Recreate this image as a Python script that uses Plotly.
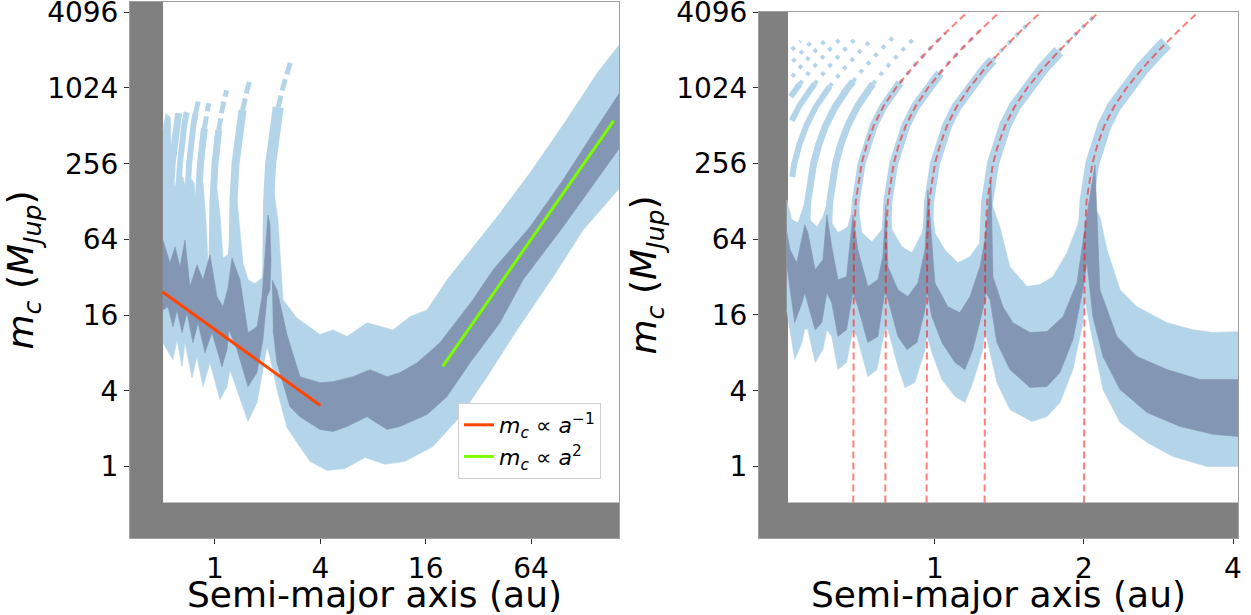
import numpy as np
import plotly.graph_objects as go

LIGHT = "rgb(180,213,233)"
DARK = "rgb(131,151,180)"
GRAY = "rgb(128,128,128)"

# Resonance locations (au) and the mass-dependent drift of each resonance track
RES_A = [2.0, 1.26, 0.962, 0.794, 0.684, 0.606, 0.547, 0.5,
         0.462, 0.431, 0.405, 0.382, 0.362, 0.344]
TRACK_M = [0.5, 32, 64, 128, 256, 362, 512, 724, 1024, 1448, 2048, 2896, 4096, 5793, 8192]
TRACK_SHIFT = [1.0, 1.0, 1.003, 1.012, 1.04, 1.065, 1.10, 1.15, 1.22, 1.31, 1.42, 1.55, 1.70, 1.87, 2.07]

# Lower edge of the sampled grid
A_MIN = 0.505
M_MIN = 0.517

# ---------------- left panel: wide range of separations ----------------
LEFT_LIGHT_UPPER = [
    (0.504, 480), (0.525, 640), (0.555, 600), (0.568, 200), (0.591, 167), (0.615, 200),
    (0.656, 200), (0.692, 144), (0.719, 200), (0.759, 180), (0.789, 96.5), (0.821, 132),
    (0.854, 180), (0.888, 91.5), (0.912, 41.6), (0.961, 48.2), (1.027, 160), (1.068, 100),
    (1.111, 45.6), (1.187, 48.2), (1.251, 100), (1.318, 160), (1.39, 76), (1.446, 41.6),
    (1.544, 30.5), (1.693, 28.4), (1.856, 31.7), (1.956, 48.2), (2.008, 132), (2.117, 200),
    (2.29, 91.5), (2.384, 36.6), (2.447, 21.2), (2.94, 15.2), (3.98, 11.2), (4.72, 12.2),
    (5.68, 10.8), (7.39, 13.9), (10.4, 12.2), (13.0, 15.5), (16.3, 17.6), (21.2, 30.5),
    (26.2, 44.0), (40.9, 96.5), (63.1, 216), (97.5, 519), (152.5, 1342), (201, 2197),
    (210, 2370)]
LEFT_LIGHT_LOWER = [
    (0.504, 9.65), (0.575, 7.07), (0.607, 10.2), (0.648, 6.22), (0.674, 9.65), (0.739, 5.09),
    (0.789, 7.47), (0.854, 4.32), (0.936, 6.69), (1.068, 3.40), (1.171, 4.32), (1.218, 5.89),
    (1.336, 4.09), (1.544, 2.28), (1.738, 3.22), (1.856, 5.18), (1.982, 8.97), (2.062, 7.47),
    (2.261, 4.09), (2.579, 2.04), (2.94, 1.55), (3.49, 1.10), (4.37, 0.93), (5.53, 0.964),
    (7.20, 1.18), (9.37, 1.04), (12.2, 1.10), (17.6, 1.44), (25.1, 2.49), (35.9, 5.18),
    (53.2, 12.2), (85.5, 32.2), (127, 76.1), (201, 158), (210, 173)]
LEFT_DARK_INNER_UPPER = [
    (0.504, 63.4), (0.553, 41.6), (0.591, 55.8), (0.631, 38.7), (0.674, 63.4), (0.719, 26.9),
    (0.789, 40.1), (0.854, 30.5), (0.936, 48.2), (1.027, 22.4), (1.111, 18.6), (1.187, 26.4),
    (1.251, 45.6), (1.318, 38.0), (1.39, 30.5), (1.544, 11.6), (1.738, 12.9), (1.856, 22.4),
    (1.931, 46.5), (2.008, 100), (2.062, 83.4), (2.089, 44.0), (2.062, 25.4)]
LEFT_DARK_INNER_LOWER = [
    (0.504, 17.6), (0.539, 18.6), (0.575, 12.9), (0.607, 17.6), (0.648, 11.6), (0.692, 16.7),
    (0.748, 9.65), (0.800, 13.9), (0.877, 8.04), (0.961, 11.6), (1.096, 6.22), (1.171, 8.49),
    (1.202, 12.2), (1.336, 8.49), (1.544, 4.32), (1.738, 5.58), (1.880, 10.2), (1.982, 22.4)]
LEFT_DARK_OUTER_UPPER = [
    (2.117, 30.5), (2.261, 25.4), (2.579, 11.2), (3.06, 5.18), (3.98, 4.64), (4.72, 4.73),
    (6.15, 5.18), (7.69, 5.89), (9.62, 5.18), (11.4, 5.58), (14.3, 6.69), (19.3, 9.65),
    (29.8, 21.2), (38.8, 36.6), (63.1, 80.4), (97.5, 190), (152.5, 500), (201, 914), (210, 984)]
LEFT_DARK_OUTER_LOWER = [
    (2.145, 12.2), (2.261, 6.69), (2.68, 2.99), (3.06, 2.49), (3.98, 1.97), (4.72, 1.90),
    (5.68, 2.08), (7.39, 2.49), (9.62, 1.97), (11.4, 2.08), (16.3, 2.59), (21.2, 3.60),
    (28.7, 6.69), (42.5, 13.9), (57.6, 30.5), (97.5, 80.4), (201, 328), (210, 353)]

LEFT_TRACK_FROM = [30, 40, 45, 45, 60, 60, 60]
LEFT_TRACK_SOLID_TOP = [720, 683, 473, 491, 646, 658, 646]
LEFT_TRACK_DOT_TOP = [1730, 1250, 983, 776, 850, 0, 0]
LEFT_TRACK_WIDTH = [11, 8, 7, 7, 6, 6, 7]

# power-law guides
INV_A = [0.5, 4.0]
INV_M = [24.5, 3.06]
SQ_A = [20, 190]
SQ_M = [6.25, 564]

# ---------------- right panel: inner region ----------------
RIGHT_LIGHT_UPPER = [
    (0.502, 132), (0.514, 91.4), (0.529, 86.5), (0.555, 150), (0.559, 91.4), (0.578, 80.4),
    (0.594, 96.5), (0.615, 150), (0.619, 86.5), (0.637, 72.1), (0.667, 80.4), (0.694, 150),
    (0.712, 72.1), (0.746, 61.1), (0.781, 76.1), (0.806, 150), (0.819, 76.1), (0.858, 55.8),
    (0.899, 50.0), (0.942, 72.1), (0.976, 150), (1.0, 72.1), (1.047, 52.8), (1.113, 41.6),
    (1.177, 46.5), (1.233, 60.0), (1.279, 150), (1.353, 80.4), (1.417, 38.7), (1.534, 26.9),
    (1.630, 27.9), (1.731, 32.2), (1.848, 50.0), (1.936, 80.4), (2.03, 150), (2.154, 96.5),
    (2.226, 52.8), (2.365, 25.4), (2.560, 18.6), (2.942, 13.9), (3.321, 12.2), (3.645, 11.6),
    (4.113, 11.8), (4.3, 11.8)]
RIGHT_LIGHT_LOWER = [
    (0.502, 17.6), (0.521, 7.07), (0.539, 9.65), (0.546, 12.5), (0.554, 12.2), (0.573, 6.69),
    (0.594, 8.49), (0.605, 12.2), (0.619, 10.8), (0.637, 5.89), (0.663, 6.69), (0.683, 12.2),
    (0.696, 10.8), (0.732, 5.18), (0.764, 5.89), (0.792, 12.2), (0.804, 12.2), (0.842, 6.22),
    (0.870, 4.24), (0.911, 4.64), (0.955, 8.49), (0.963, 11.2), (0.986, 8.04), (1.033, 4.91),
    (1.098, 3.60), (1.150, 3.22), (1.193, 4.64), (1.250, 8.49), (1.262, 12.2), (1.280, 9.65),
    (1.334, 4.64), (1.417, 2.83), (1.570, 2.28), (1.684, 2.49), (1.789, 3.22), (1.900, 5.89),
    (1.990, 13.9), (2.010, 21.2), (2.076, 10.8), (2.185, 4.09), (2.365, 2.24), (2.681, 1.55),
    (3.025, 1.20), (3.545, 1.0), (4.113, 1.0), (4.3, 1.0)]
RIGHT_DARK_UPPER = [
    (0.502, 73.4), (0.510, 52.8), (0.526, 41.6), (0.546, 83.4), (0.554, 72.1), (0.573, 36.6),
    (0.594, 44.0), (0.605, 100), (0.619, 55.8), (0.637, 30.5), (0.663, 32.2), (0.683, 100),
    (0.699, 52.8), (0.732, 26.9), (0.767, 30.5), (0.785, 46.5), (0.796, 120), (0.804, 38.7),
    (0.842, 25.4), (0.882, 22.4), (0.924, 28.9), (0.955, 52.8), (0.968, 158), (1.0, 28.9),
    (1.062, 18.6), (1.123, 16.7), (1.177, 22.4), (1.233, 38.7), (1.262, 63.4), (1.298, 190),
    (1.310, 32.2), (1.372, 18.6), (1.437, 13.9), (1.556, 11.6), (1.684, 11.8), (1.814, 15.5),
    (1.936, 28.9), (2.010, 80.4), (2.105, 250), (2.154, 25.4), (2.331, 10.8), (2.560, 7.47),
    (2.942, 5.89), (3.431, 4.91), (4.113, 4.91), (4.3, 4.91)]
RIGHT_DARK_LOWER = [
    (0.502, 40.1), (0.521, 13.9), (0.539, 20.0), (0.546, 24.0), (0.554, 20.0), (0.573, 12.2),
    (0.591, 13.9), (0.605, 24.0), (0.619, 20.0), (0.637, 10.8), (0.663, 12.2), (0.683, 24.0),
    (0.699, 18.6), (0.732, 9.65), (0.767, 10.8), (0.792, 24.0), (0.804, 21.2), (0.842, 10.8),
    (0.878, 8.49), (0.920, 9.65), (0.955, 17.6), (0.963, 25.0), (0.986, 15.5), (1.033, 9.65),
    (1.098, 6.69), (1.150, 5.89), (1.193, 8.49), (1.250, 17.6), (1.268, 24.0), (1.292, 21.2),
    (1.334, 9.65), (1.417, 5.89), (1.556, 4.24), (1.684, 4.32), (1.789, 5.58), (1.900, 10.2),
    (1.990, 25.4), (2.028, 42.0), (2.085, 15.5), (2.185, 7.47), (2.365, 4.09), (2.681, 2.68),
    (3.125, 2.08), (3.645, 1.80), (4.113, 1.73), (4.3, 1.73)]

RIGHT_TRACK_FROM = [60, 60, 60, 60, 60, 60, 60, 200, 560, 870, 1250, 1650, 2050, 2600]
RIGHT_TRACK_SOLID_TOP = [2320, 2000, 1700, 1340, 1120, 1100, 1150, 1050, 1100, 1100, 1150, 1500, 1900, 2350]
RIGHT_TRACK_DOT_TOP = [0, 4000, 3500, 2900, 2800, 2600, 2600, 2500, 2500, 2500, 2400, 2400, 2400, 2400]
RIGHT_TRACK_WIDTH = [14, 12, 10, 9, 8, 7, 7, 6, 6, 6, 5, 5, 5, 5]
N_DASHED = 5


def track(a_res, m_lo, m_hi):
    """Points of one resonance track between two companion masses."""
    lm = np.log(TRACK_M)
    ls = np.log(TRACK_SHIFT)
    ms = [m_lo] + [m for m in TRACK_M if m_lo < m < m_hi] + [m_hi]
    a = [a_res * float(np.exp(np.interp(np.log(m), lm, ls))) for m in ms]
    return a, ms


def region(upper, lower, color, xa, ya):
    xs = [p[0] for p in upper] + [p[0] for p in lower[::-1]]
    ys = [p[1] for p in upper] + [p[1] for p in lower[::-1]]
    return go.Scatter(x=xs, y=ys, mode="lines", fill="toself", fillcolor=color,
                      line=dict(width=0.6, color=color), hoverinfo="skip",
                      showlegend=False, xaxis=xa, yaxis=ya)


def grid_area(xa, ya):
    return go.Scatter(x=[A_MIN, 1e4, 1e4, A_MIN, A_MIN], y=[M_MIN, M_MIN, 1e5, 1e5, M_MIN],
                      mode="lines", fill="toself", fillcolor="white",
                      line=dict(width=0, color="white"), hoverinfo="skip",
                      showlegend=False, xaxis=xa, yaxis=ya)


def line(a, m, color, width, xa, ya, dash="solid"):
    return go.Scatter(x=a, y=m, mode="lines", line=dict(color=color, width=width, dash=dash),
                      hoverinfo="skip", showlegend=False, xaxis=xa, yaxis=ya)


traces = []

# left panel
traces.append(grid_area("x", "y"))
traces.append(region(LEFT_LIGHT_UPPER, LEFT_LIGHT_LOWER, LIGHT, "x", "y"))
for i in range(len(LEFT_TRACK_FROM)):
    a, m = track(RES_A[i], LEFT_TRACK_FROM[i], LEFT_TRACK_SOLID_TOP[i])
    traces.append(line(a, m, LIGHT, LEFT_TRACK_WIDTH[i], "x", "y"))
    if LEFT_TRACK_DOT_TOP[i] > 0:
        a, m = track(RES_A[i], LEFT_TRACK_SOLID_TOP[i], LEFT_TRACK_DOT_TOP[i])
        traces.append(line(a, m, LIGHT, 5, "x", "y", dash="12px,5px"))
traces.append(region(LEFT_DARK_INNER_UPPER, LEFT_DARK_INNER_LOWER, DARK, "x", "y"))
traces.append(region(LEFT_DARK_OUTER_UPPER, LEFT_DARK_OUTER_LOWER, DARK, "x", "y"))

# right panel
traces.append(grid_area("x2", "y2"))
traces.append(region(RIGHT_LIGHT_UPPER, RIGHT_LIGHT_LOWER, LIGHT, "x2", "y2"))
for i in range(len(RIGHT_TRACK_FROM)):
    if RIGHT_TRACK_SOLID_TOP[i] > RIGHT_TRACK_FROM[i]:
        a, m = track(RES_A[i], RIGHT_TRACK_FROM[i], RIGHT_TRACK_SOLID_TOP[i])
        traces.append(line(a, m, LIGHT, RIGHT_TRACK_WIDTH[i], "x2", "y2"))
    lo = max(RIGHT_TRACK_SOLID_TOP[i], RIGHT_TRACK_FROM[i])
    if RIGHT_TRACK_DOT_TOP[i] > lo:
        a, m = track(RES_A[i], lo, RIGHT_TRACK_DOT_TOP[i])
        traces.append(line(a, m, LIGHT, 4, "x2", "y2", dash="4px,7px"))
traces.append(region(RIGHT_DARK_UPPER, RIGHT_DARK_LOWER, DARK, "x2", "y2"))
for i in range(N_DASHED):
    a, m = track(RES_A[i], M_MIN, 8192)
    traces.append(line(a, m, "rgba(255,0,0,0.5)", 2, "x2", "y2", dash="7px,4px"))

# power-law guides with legend entries
traces.append(go.Scatter(x=INV_A, y=INV_M, mode="lines", line=dict(color="#ff4500", width=3),
                         name="<i>m</i><sub><i>c</i></sub> ∝ <i>a</i><sup>−1</sup>",
                         hoverinfo="skip", xaxis="x", yaxis="y"))
traces.append(go.Scatter(x=SQ_A, y=SQ_M, mode="lines", line=dict(color="#7cfc00", width=3),
                         name="<i>m</i><sub><i>c</i></sub> ∝ <i>a</i><sup>2</sup>",
                         hoverinfo="skip", xaxis="x", yaxis="y"))

fig = go.Figure(traces)

W, H = 1251, 615
TICK_FONT = dict(family="DejaVu Sans", size=28, color="black")
TITLE_FONT = dict(family="DejaVu Sans", size=36, color="black")
axis_common = dict(type="log", showgrid=False, zeroline=False, ticks="outside", ticklen=5,
                   tickwidth=1, tickcolor="#333", showline=True, linecolor="#a0a0a0",
                   linewidth=1, mirror=True, tickfont=TICK_FONT, ticklabeloverflow="allow",
                   automargin=False)
y_ticks = [1, 4, 16, 64, 256, 1024, 4096]
y_title = "<i>m</i><sub><i>c</i></sub> (<i>M</i><sub><i>Jup</i></sub>)"

fig.update_layout(
    width=W, height=H, margin=dict(l=0, r=0, t=0, b=0, autoexpand=False),
    paper_bgcolor="white", plot_bgcolor=GRAY,
    xaxis=dict(axis_common, domain=[130 / W, 619 / W], anchor="y",
               range=[np.log10(0.3268), np.log10(203.7)],
               tickvals=[1, 4, 16, 64], ticktext=["1", "4", "16", "64"],
               title=dict(text="Semi-major axis (au)", font=TITLE_FONT, standoff=4)),
    yaxis=dict(axis_common, domain=[77 / H, 613 / H], anchor="x",
               range=[np.log10(0.2699), np.log10(4946)],
               tickvals=y_ticks, ticktext=[str(v) for v in y_ticks],
               title=dict(text=y_title, font=TITLE_FONT, standoff=8)),
    xaxis2=dict(axis_common, domain=[759 / W, 1238 / W], anchor="y2",
                range=[np.log10(0.4413), np.log10(4.094)],
                tickvals=[1, 2, 4], ticktext=["1", "2", "4"],
                title=dict(text="Semi-major axis (au)", font=TITLE_FONT, standoff=4)),
    yaxis2=dict(axis_common, domain=[77 / H, 603 / H], anchor="x2",
                range=[np.log10(0.2699), np.log10(4096)],
                tickvals=y_ticks, ticktext=[str(v) for v in y_ticks],
                title=dict(text=y_title, font=TITLE_FONT, standoff=8)),
    legend=dict(x=458 / W, y=1 - 403 / H, xanchor="left", yanchor="top",
                bgcolor="white", bordercolor="#d0d0d0", borderwidth=1,
                font=dict(family="DejaVu Sans", size=22, color="black")),
)

fig.write_html("out.html", config={"displayModeBar": False},
               post_script="document.body.style.margin='0';")
